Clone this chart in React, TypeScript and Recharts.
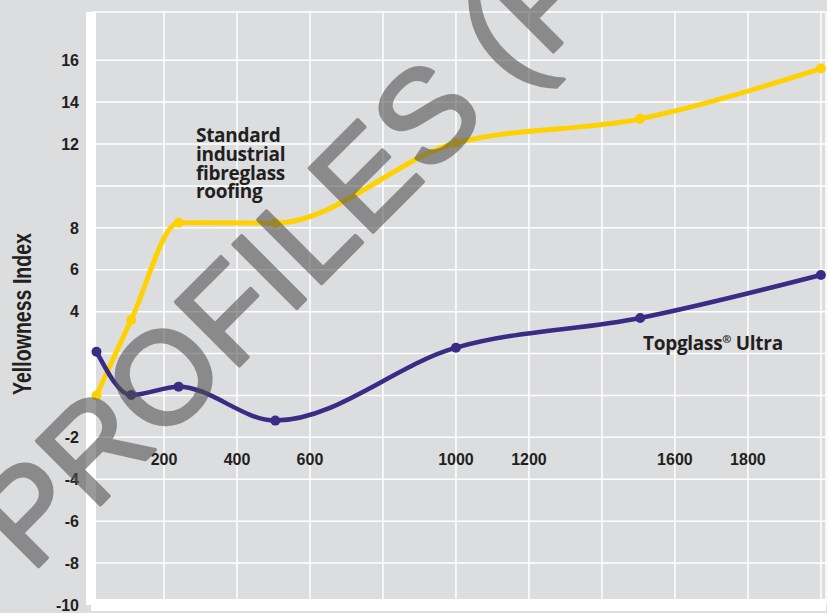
import { LineChart, Line, XAxis, YAxis, CartesianGrid } from "recharts"

// exposure hours
const hours = [15, 110, 240, 505, 1000, 1505, 2000]
const standardRoofing = [0, 3.6, 8.24, 8.23, 12.05, 13.2, 15.6]
const topglassUltra = [2.09, 0.02, 0.42, -1.2, 2.28, 3.7, 5.75]

const xTicks = [200, 400, 600, 800, 1000, 1200, 1400, 1600, 1800, 2000]
const xHidden = [800, 1400, 2000]
const yTicks = [-10, -8, -6, -4, -2, 0, 2, 4, 6, 8, 10, 12, 14, 16]
const yHidden = [0, 2, 10]

const data = hours.map((h, i) => ({
  hours: h,
  standard: standardRoofing[i],
  topglass: topglassUltra[i],
}))

const BG = "#dcdddf"
const INK = "#231f20"
const YELLOW = "#ffd100"
const PURPLE = "#3a2b85"

const XTick = ({ x, y, payload }: any) => {
  if (xHidden.includes(payload.value)) return null
  return (
    <text x={x} y={y - 146} dy="0.355em" textAnchor="middle" fill={INK} fontSize={16} fontWeight={700} fontFamily="Liberation Sans, Arial, sans-serif">
      {payload.value}
    </text>
  )
}

const YTick = ({ x, y, payload }: any) => {
  if (yHidden.includes(payload.value)) return null
  return (
    <text x={x} y={y} dy="0.355em" textAnchor="end" fill={INK} fontSize={16} fontWeight={700} fontFamily="Liberation Sans, Arial, sans-serif">
      {payload.value}
    </text>
  )
}

export default function App() {
  const note = { fill: INK, fontSize: 19, fontWeight: 700, fontFamily: "Open Sans, Noto Sans, sans-serif", letterSpacing: -0.3 }
  return (
    <div style={{ position: "relative", width: 827, height: 613, background: BG }}>
      <style>{`body{margin:0}`}</style>
      <LineChart width={827} height={613} data={data} margin={{ top: 12, right: 1, bottom: 0, left: 0 }}>
        <CartesianGrid stroke="#fff" strokeWidth={1.5} />
        <XAxis
          type="number"
          dataKey="hours"
          domain={[0, 2014]}
          ticks={xTicks}
          interval={0}
          allowDataOverflow
          height={8}
          tickSize={0}
          tickMargin={0}
          tickLine={false}
          axisLine={{ stroke: "#fff", strokeWidth: 12 }}
          tick={XTick}
        />
        <YAxis
          type="number"
          domain={[-10, 18.3]}
          ticks={yTicks}
          interval={0}
          allowDataOverflow
          width={91}
          tickSize={0}
          tickMargin={12}
          tickLine={false}
          axisLine={{ stroke: "#fff", strokeWidth: 10 }}
          tick={YTick}
        />
        <Line
          type="monotone"
          dataKey="standard"
          stroke={YELLOW}
          strokeWidth={5}
          dot={{ r: 5, fill: YELLOW, stroke: "none" }}
          activeDot={false}
          isAnimationActive={false}
        />
        <Line
          type="monotone"
          dataKey="topglass"
          stroke={PURPLE}
          strokeWidth={4.5}
          dot={{ r: 5, fill: PURPLE, stroke: "none" }}
          activeDot={false}
          isAnimationActive={false}
        />
      </LineChart>
      <svg width={827} height={613} style={{ position: "absolute", left: 0, top: 0, pointerEvents: "none" }}>
        <text
          x={22}
          y={314}
          transform="rotate(-90 22 314)"
          textAnchor="middle"
          dominantBaseline="central"
          fill={INK}
          fontSize={25}
          fontWeight={700}
          fontFamily="Liberation Sans Narrow, Liberation Sans, Arial, sans-serif"
          textLength={162}
          lengthAdjust="spacingAndGlyphs"
        >
          Yellowness Index
        </text>
        <text x={196} y={141.7} {...note}>Standard</text>
        <text x={196} y={161} {...note}>industrial</text>
        <text x={196} y={179.5} {...note}>fibreglass</text>
        <text x={196} y={198.3} {...note}>roofing</text>
        <text x={643} y={349.5} {...note}>
          Topglass<tspan fontSize={11} dy={-7}>®</tspan>
          <tspan dy={7}> Ultra</tspan>
        </text>
        {/* watermark */}
        <g opacity={0.58}>
          <text
            x={31}
            y={574}
            transform="rotate(-45 31 574)"
            fontSize={131}
            fontFamily="Liberation Sans, Arial, sans-serif"
            fill="#505050"
            stroke="#505050"
            strokeWidth={3.5}
            strokeLinejoin="round"
          >
            PROFILES (P
          </text>
        </g>
      </svg>
    </div>
  )
}
